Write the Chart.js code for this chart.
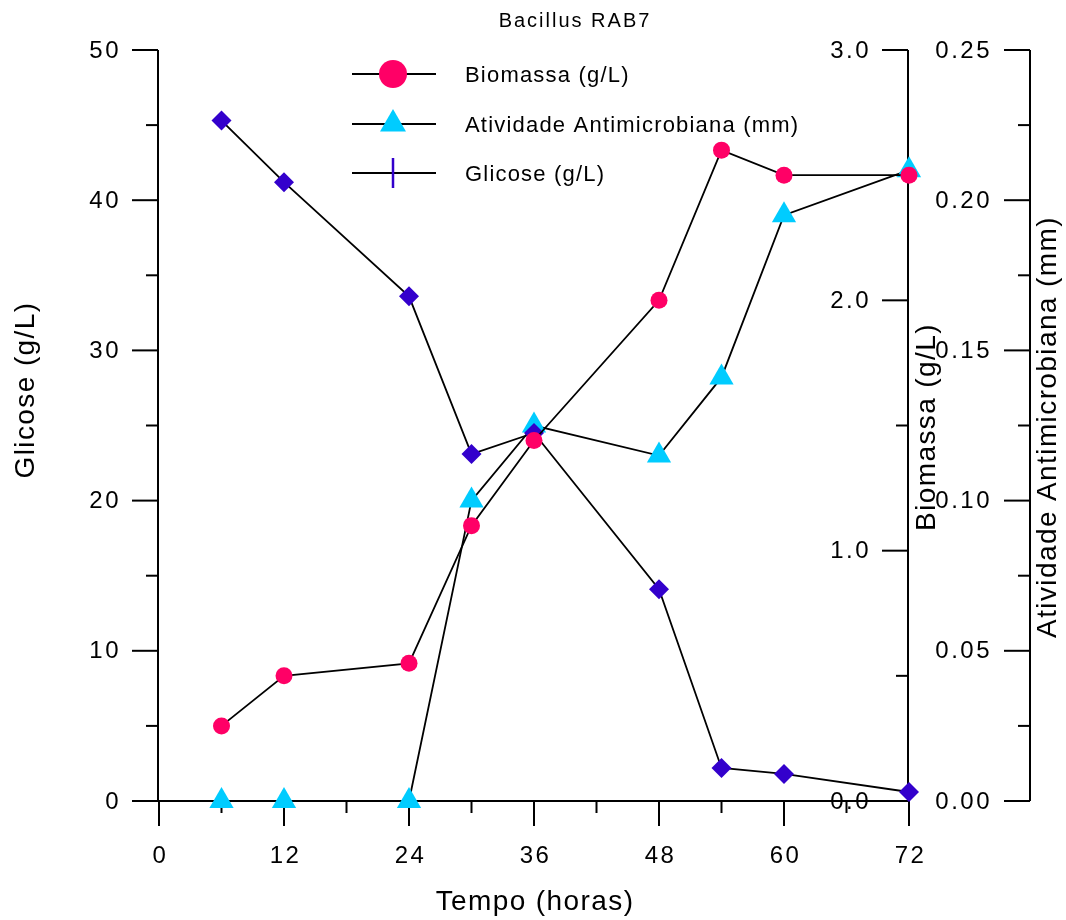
<!DOCTYPE html>
<html>
<head>
<meta charset="utf-8">
<title>Bacillus RAB7</title>
<script src="https://cdn.jsdelivr.net/npm/chart.js@4.4.0/dist/chart.umd.min.js"></script>
<style>
  html, body { margin: 0; padding: 0; background: #fff; }
  #wrap { width: 1066px; height: 920px; }
</style>
</head>
<body>
<div id="wrap"><canvas id="chart" width="1066" height="920"></canvas></div>
<script>
// sampling times (horas)
const tempo = [6, 12, 24, 30, 36, 48, 54, 60, 72];

// series
const biomassa = [0.30, 0.50, 0.55, 1.10, 1.44, 2.00, 2.60, 2.50, 2.50];
const atividade = [0, 0, 0, 0.100, 0.125, 0.115, 0.141, 0.195, 0.210];
const glicose = [45.3, 41.2, 33.6, 23.1, 24.5, 14.1, 2.2, 1.8, 0.6];

// axis ticks (majors; minors sit halfway between)
const xTicks = [0, 12, 24, 36, 48, 60, 72];
const glicoseTicks = [0, 10, 20, 30, 40, 50];
const biomassaTicks = [0, 1, 2, 3];
const atividadeTicks = [0, 0.05, 0.10, 0.15, 0.20, 0.25];

// legend rows, top to bottom (dataset labels)
const legendOrder = ['Biomassa (g/L)', 'Atividade Antimicrobiana (mm)', 'Glicose (g/L)'];

const PINK = '#ff0066';
const CYAN = '#00ccff';
const PURPLE = '#3300cc';
const FONT = '"Liberation Sans", Arial, sans-serif';

function pts(ys) {
    return tempo.map((t, i) => ({ x: t, y: ys[i] }));
}

function seg(ctx, x1, y1, x2, y2) {
    ctx.beginPath();
    ctx.moveTo(x1, y1);
    ctx.lineTo(x2, y2);
    ctx.stroke();
}

function vAxis(ctx, scale, axisX, ticks, fmt, labelX) {
    const yTop = scale.getPixelForValue(ticks[ticks.length - 1]);
    const yBot = scale.getPixelForValue(ticks[0]);
    seg(ctx, axisX, yTop, axisX, yBot);
    ticks.forEach((v, i) => {
        const y = scale.getPixelForValue(v);
        seg(ctx, axisX - 26, y, axisX, y);
        ctx.fillText(fmt(v), labelX, y + 1);
        if (i < ticks.length - 1) {
            const ym = scale.getPixelForValue((v + ticks[i + 1]) / 2);
            seg(ctx, axisX - 12, ym, axisX, ym);
        }
    });
}

function rotTitle(ctx, text, x, y) {
    ctx.save();
    ctx.translate(x, y);
    ctx.rotate(-Math.PI / 2);
    ctx.fillText(text, 0, 0);
    ctx.restore();
}

// axes drawn by hand from the chart's own scales
const axesPlugin = {
    id: 'axes',
    beforeDatasetsDraw(chart) {
        const ctx = chart.ctx;
        const s = chart.scales;
        ctx.save();
        ctx.strokeStyle = '#000';
        ctx.fillStyle = '#000';
        ctx.lineWidth = 2;
        ctx.font = '24px ' + FONT;
        ctx.letterSpacing = '2.5px';
        ctx.textBaseline = 'middle';

        // left: Glicose
        ctx.textAlign = 'right';
        const left = s.x.left - 1;
        vAxis(ctx, s.yGli, left, glicoseTicks, v => String(v), 121);
        // right 1: Biomassa
        const bioX = s.x.right - 1;
        vAxis(ctx, s.yBio, bioX, biomassaTicks, v => v.toFixed(1), 871);
        // right 2: Atividade
        vAxis(ctx, s.yAtv, 1030, atividadeTicks, v => v.toFixed(2), 992);

        // bottom: Tempo
        const y0 = s.yGli.getPixelForValue(0);
        seg(ctx, left - 26, y0, bioX, y0);
        ctx.textAlign = 'center';
        xTicks.forEach((v, i) => {
            const x = s.x.getPixelForValue(v);
            seg(ctx, x, y0, x, y0 + 25);
            ctx.fillText(String(v), x + 1.5, 856);
            if (i < xTicks.length - 1) {
                const xm = s.x.getPixelForValue((v + xTicks[i + 1]) / 2);
                seg(ctx, xm, y0, xm, y0 + 12);
            }
        });

        // titles
        ctx.font = '28px ' + FONT;
        ctx.letterSpacing = '1.4px';
        ctx.textBaseline = 'alphabetic';
        ctx.fillText('Tempo (horas)', (s.x.left + s.x.right) / 2 + 1, 910);
        rotTitle(ctx, 'Glicose (g/L)', 34, 390);
        rotTitle(ctx, 'Biomassa (g/L)', 935, 427);
        rotTitle(ctx, 'Atividade Antimicrobiana (mm)', 1056, 427);

        ctx.font = '20px ' + FONT;
        ctx.letterSpacing = '2px';
        ctx.fillText('Bacillus RAB7', 575, 27);
        ctx.restore();
    }
};

// legend with line + large marker
const legendPlugin = {
    id: 'legendBox',
    afterDatasetsDraw(chart) {
        const ctx = chart.ctx;
        const rows = [74, 124, 173];
        ctx.save();
        ctx.font = '22px ' + FONT;
        ctx.letterSpacing = '1.2px';
        ctx.textAlign = 'left';
        ctx.textBaseline = 'alphabetic';
        legendOrder.forEach((label, i) => {
            const ds = chart.data.datasets.find(d => d.label === label);
            const y = rows[i];
            const mx = 393;
            ctx.strokeStyle = '#000';
            ctx.lineWidth = 2;
            seg(ctx, 352, y, 436, y);
            ctx.fillStyle = ds.pointBackgroundColor;
            ctx.beginPath();
            if (ds.pointStyle === 'circle') {
                ctx.arc(mx, y, 14, 0, Math.PI * 2);
                ctx.fill();
            } else if (ds.pointStyle === 'triangle') {
                const r = 15;
                for (let k = 0; k < 3; k++) {
                    const a = k * 2 * Math.PI / 3;
                    const px = mx + Math.sin(a) * r, py = y - Math.cos(a) * r;
                    if (k === 0) ctx.moveTo(px, py); else ctx.lineTo(px, py);
                }
                ctx.closePath();
                ctx.fill();
            } else {
                ctx.strokeStyle = ds.pointBackgroundColor;
                ctx.lineWidth = 2.5;
                seg(ctx, mx, y - 15, mx, y + 15);
            }
            ctx.fillStyle = '#000';
            ctx.fillText(ds.label, 465, y + 8);
        });
        ctx.restore();
    }
};

const ctx = document.getElementById('chart').getContext('2d');

new Chart(ctx, {
    type: 'line',
    data: {
        datasets: [{
            label: 'Biomassa (g/L)',
            data: pts(biomassa),
            yAxisID: 'yBio',
            pointStyle: 'circle',
            pointRadius: 8.5,
            pointBackgroundColor: PINK,
            borderColor: '#000',
            borderWidth: 1.8,
            pointBorderWidth: 0,
            clip: false
        }, {
            label: 'Glicose (g/L)',
            data: pts(glicose),
            yAxisID: 'yGli',
            pointStyle: 'rectRot',
            pointRadius: 10,
            pointBackgroundColor: PURPLE,
            borderColor: '#000',
            borderWidth: 1.8,
            pointBorderWidth: 0,
            clip: false
        }, {
            label: 'Atividade Antimicrobiana (mm)',
            data: pts(atividade),
            yAxisID: 'yAtv',
            pointStyle: 'triangle',
            pointRadius: 14,
            pointBackgroundColor: CYAN,
            borderColor: '#000',
            borderWidth: 1.8,
            pointBorderWidth: 0,
            clip: false
        }]
    },
    options: {
        responsive: false,
        animation: false,
        layout: { padding: { left: 159, right: 157, top: 50, bottom: 119 } },
        plugins: {
            legend: { display: false },
            tooltip: { enabled: false },
            title: { display: false }
        },
        elements: { line: { tension: 0 } },
        scales: {
            x: { type: 'linear', min: 0, max: 72, display: false },
            yGli: { type: 'linear', position: 'left', min: 0, max: 50, display: false },
            yBio: { type: 'linear', position: 'right', min: 0, max: 3, display: false },
            yAtv: { type: 'linear', position: 'right', min: 0, max: 0.25, display: false }
        }
    },
    plugins: [axesPlugin, legendPlugin]
});
</script>
</body>
</html>
